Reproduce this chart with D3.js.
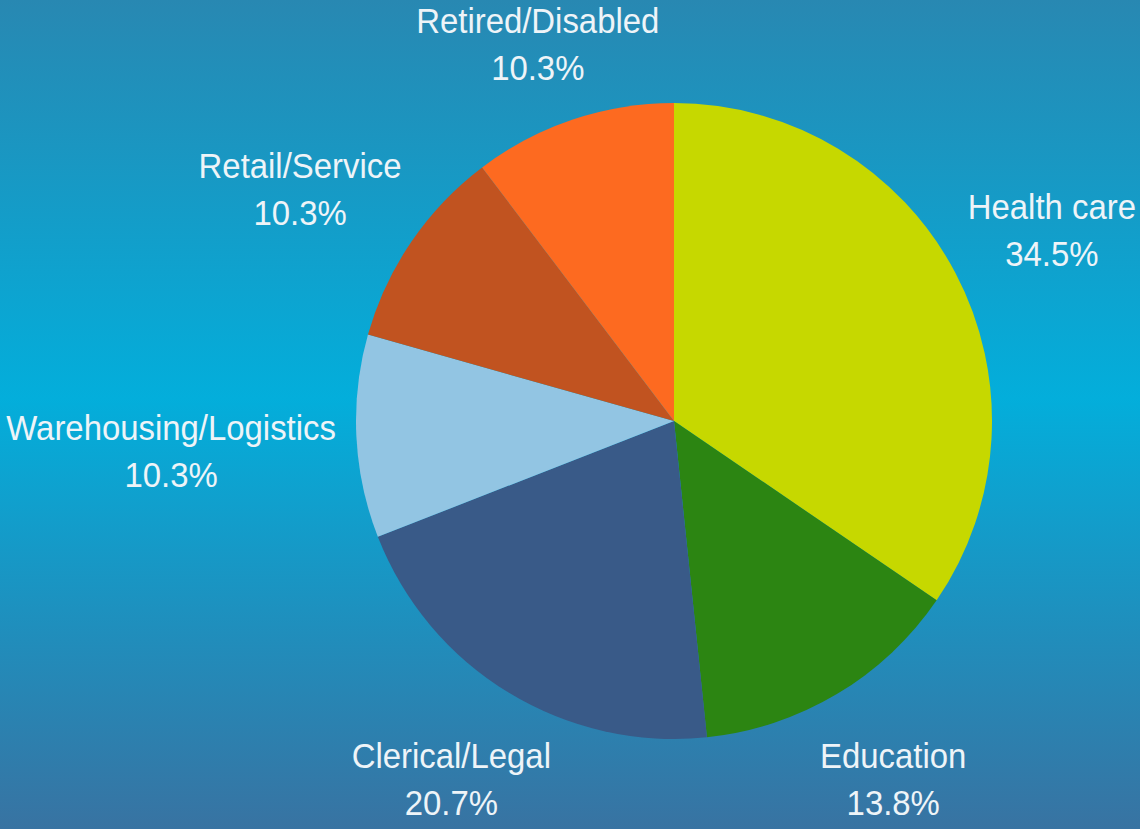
<!DOCTYPE html>
<html>
<head>
<meta charset="utf-8">
<script src="https://cdn.jsdelivr.net/npm/d3@7"></script>
<style>
  html, body { margin: 0; padding: 0; }
  body { width: 1140px; height: 829px; overflow: hidden; }
  svg text { font-family: "Liberation Sans", Arial, sans-serif; fill: #eef4f8; }
</style>
</head>
<body>
<svg id="chart" width="1140" height="829"></svg>
<script>
// data
var categories = ["Health care", "Education", "Clerical/Legal", "Warehousing/Logistics", "Retail/Service", "Retired/Disabled"];
var shares = [34.5, 13.8, 20.7, 10.3, 10.3, 10.3];
var colours = ["#c6d800", "#2c8512", "#395a88", "#92c5e3", "#c15320", "#fd6a20"];

var W = 1140, H = 829;
var cx = 674, cy = 421, radius = 318, labelR = 428;
var fontSize = 35, lineGap = 47, gap = 20, squeeze = 0.94; // narrow face faked by scaleX

var svg = d3.select("#chart");

// background gradient
var defs = svg.append("defs");
var grad = defs.append("linearGradient").attr("id", "bg").attr("x1", 0).attr("y1", 0).attr("x2", 0).attr("y2", 1);
grad.append("stop").attr("offset", "0%").attr("stop-color", "#2888b2");
grad.append("stop").attr("offset", "48%").attr("stop-color", "#03aedb");
grad.append("stop").attr("offset", "100%").attr("stop-color", "#3873a2");
svg.append("rect").attr("width", W).attr("height", H).attr("fill", "url(#bg)");

var data = categories.map(function(c, i){ return {name: c, value: shares[i], colour: colours[i]}; });

var pie = d3.pie().sort(null).value(function(d){ return d.value; });
var arc = d3.arc().innerRadius(0).outerRadius(radius);
var arcs = pie(data);

var g = svg.append("g").attr("transform", "translate(" + cx + "," + cy + ")");
g.selectAll("path")
  .data(arcs)
  .enter().append("path")
  .attr("d", arc)
  .attr("fill", function(d){ return d.data.colour; });

// labels: two lines, centred around a point on a bigger circle,
// pushed out of the pie and kept inside the page
var lab = svg.append("g");
arcs.forEach(function(a){
  var mid = (a.startAngle + a.endAngle) / 2;
  var x = cx + labelR * Math.sin(mid);
  var y = cy - labelR * Math.cos(mid);
  var t = lab.append("text").attr("text-anchor", "middle").attr("font-size", fontSize);
  var l1 = t.append("tspan").attr("x", 0).attr("y", 0).text(a.data.name);
  var l2 = t.append("tspan").attr("x", 0).attr("y", lineGap).text(d3.format(".1f")(a.data.value) + "%");
  var w = squeeze * Math.max(l1.node().getComputedTextLength(), l2.node().getComputedTextLength());
  // horizontal push so the block clears the pie
  var top = y - 28, bot = y + 48;
  var nearY = Math.max(top, Math.min(cy, bot));
  var dy = nearY - cy;
  if (Math.abs(dy) < radius) {
    var edge = Math.sqrt(radius * radius - dy * dy);
    if (x < cx && x + w / 2 > cx - edge - gap) x = cx - edge - gap - w / 2;
    if (x > cx && x - w / 2 < cx + edge + gap) x = cx + edge + gap + w / 2;
  }
  x = Math.max(w / 2 + 4, Math.min(W - w / 2 - 4, x));
  var base = Math.max(33, Math.min(H - 14 - lineGap, y - 2));
  t.attr("transform", "translate(" + x + "," + base + ") scale(" + squeeze + ",1)");
});
</script>
</body>
</html>
